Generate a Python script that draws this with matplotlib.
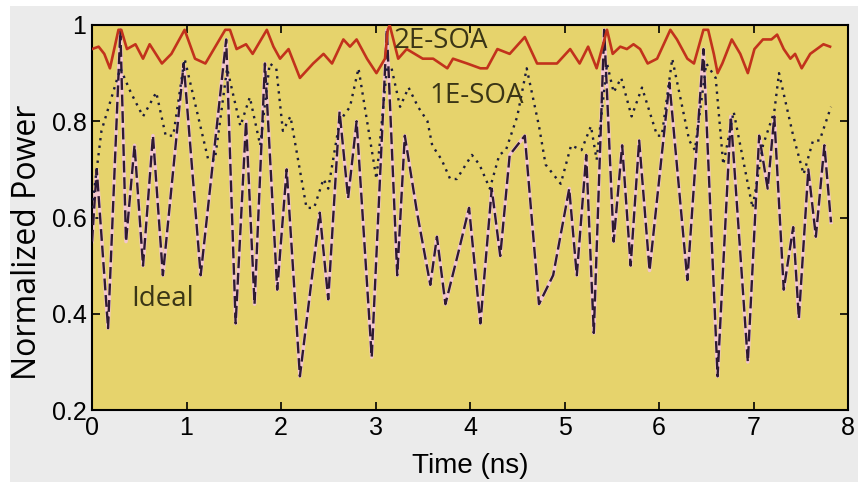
import matplotlib
matplotlib.use("Agg")
import matplotlib.pyplot as plt
from matplotlib.patches import Rectangle

# ---- data ----
ideal_t = [0.00, 0.05, 0.17, 0.30, 0.36, 0.45, 0.54, 0.645, 0.75, 0.97, 1.15, 1.42, 1.52, 1.63, 1.72,
           1.83, 1.96, 2.06, 2.20, 2.41, 2.50, 2.62, 2.71, 2.80, 2.96, 3.12, 3.23, 3.31, 3.44, 3.58,
           3.65, 3.74, 3.88, 3.99, 4.11, 4.23, 4.32, 4.42, 4.58, 4.73, 4.88, 5.05, 5.13, 5.23, 5.31,
           5.42, 5.52, 5.61, 5.70, 5.79, 5.90, 6.11, 6.30, 6.47, 6.62, 6.76, 6.94, 7.06, 7.15, 7.22,
           7.32, 7.42, 7.48, 7.58, 7.66, 7.75, 7.82]
ideal_v = [0.55, 0.70, 0.37, 0.99, 0.55, 0.75, 0.50, 0.77, 0.48, 0.92, 0.48, 0.97, 0.38, 0.80, 0.42,
           0.92, 0.45, 0.70, 0.27, 0.61, 0.43, 0.82, 0.64, 0.80, 0.31, 0.99, 0.48, 0.77, 0.61, 0.46,
           0.56, 0.42, 0.53, 0.62, 0.38, 0.66, 0.52, 0.73, 0.77, 0.42, 0.48, 0.66, 0.48, 0.73, 0.36,
           0.99, 0.55, 0.75, 0.50, 0.76, 0.49, 0.88, 0.47, 0.95, 0.27, 0.81, 0.30, 0.77, 0.66, 0.81,
           0.45, 0.58, 0.39, 0.70, 0.56, 0.75, 0.59]

soa1_t = [0.00, 0.05, 0.10, 0.30, 0.41, 0.54, 0.68, 0.78, 0.86, 0.98, 1.23, 1.30, 1.43, 1.57, 1.67,
          1.78, 1.88, 1.95, 2.02, 2.10, 2.27, 2.35, 2.45, 2.50, 2.62, 2.73, 2.82, 3.01, 3.12, 3.17,
          3.26, 3.35, 3.45, 3.55, 3.60, 3.70, 3.79, 3.86, 4.02, 4.10, 4.21, 4.31, 4.38, 4.50, 4.60,
          4.73, 4.80, 4.96, 5.07, 5.18, 5.28, 5.34, 5.45, 5.52, 5.60, 5.71, 5.82, 5.98, 6.03, 6.14,
          6.32, 6.38, 6.50, 6.60, 6.68, 6.79, 6.99, 7.10, 7.22, 7.27, 7.42, 7.53, 7.63, 7.70, 7.82]
soa1_v = [0.62, 0.70, 0.78, 0.91, 0.86, 0.81, 0.86, 0.77, 0.77, 0.93, 0.72, 0.72, 0.91, 0.79, 0.85,
          0.75, 0.92, 0.91, 0.78, 0.81, 0.62, 0.62, 0.68, 0.66, 0.80, 0.83, 0.91, 0.68, 0.91, 0.91,
          0.83, 0.87, 0.83, 0.80, 0.75, 0.72, 0.68, 0.68, 0.73, 0.71, 0.66, 0.73, 0.74, 0.81, 0.91,
          0.79, 0.71, 0.67, 0.75, 0.74, 0.79, 0.72, 0.92, 0.86, 0.89, 0.81, 0.87, 0.77, 0.77, 0.93,
          0.76, 0.74, 0.92, 0.89, 0.71, 0.82, 0.62, 0.75, 0.82, 0.90, 0.77, 0.69, 0.76, 0.76, 0.83]

soa2_t = [0.00, 0.07, 0.13, 0.19, 0.28, 0.31, 0.37, 0.46, 0.54, 0.61, 0.74, 0.84, 0.98, 1.09, 1.20,
          1.32, 1.41, 1.46, 1.53, 1.63, 1.70, 1.76, 1.85, 1.92, 1.99, 2.08, 2.20, 2.34, 2.45, 2.54,
          2.66, 2.73, 2.80, 2.91, 3.01, 3.10, 3.13, 3.15, 3.24, 3.33, 3.50, 3.61, 3.76, 3.82, 3.97,
          4.11, 4.18, 4.29, 4.42, 4.58, 4.71, 4.81, 4.92, 5.06, 5.16, 5.25, 5.34, 5.45, 5.51, 5.59,
          5.66, 5.73, 5.80, 5.88, 5.98, 6.12, 6.19, 6.30, 6.37, 6.47, 6.52, 6.58, 6.62, 6.67, 6.77,
          6.86, 6.94, 7.01, 7.10, 7.19, 7.25, 7.32, 7.39, 7.44, 7.51, 7.60, 7.67, 7.74, 7.81]
soa2_v = [0.95, 0.955, 0.94, 0.91, 0.99, 0.99, 0.95, 0.96, 0.93, 0.96, 0.92, 0.94, 0.99, 0.93, 0.92,
          0.96, 0.99, 0.99, 0.95, 0.96, 0.94, 0.96, 0.99, 0.955, 0.93, 0.95, 0.89, 0.92, 0.94, 0.92,
          0.97, 0.955, 0.97, 0.93, 0.90, 0.93, 0.99, 1.00, 0.93, 0.95, 0.93, 0.93, 0.91, 0.93, 0.92,
          0.91, 0.91, 0.95, 0.94, 0.975, 0.92, 0.92, 0.92, 0.95, 0.92, 0.955, 0.91, 0.99, 0.94, 0.955,
          0.95, 0.96, 0.95, 0.92, 0.93, 0.99, 0.97, 0.93, 0.92, 0.99, 0.99, 0.94, 0.90, 0.92, 0.97,
          0.94, 0.90, 0.95, 0.97, 0.97, 0.98, 0.95, 0.93, 0.94, 0.91, 0.94, 0.95, 0.96, 0.955]

x_ticks = [0, 1, 2, 3, 4, 5, 6, 7, 8]
y_ticks = [0.2, 0.4, 0.6, 0.8, 1.0]
y_tick_labels = ["0.2", "0.4", "0.6", "0.8", "1"]

# ---- figure ----
W, H = 858, 482
fig = plt.figure(figsize=(W / 100, H / 100), dpi=100, facecolor="#ebebeb")
fig.patches.append(Rectangle((0, 1 - 6 / H), 1, 6 / H, transform=fig.transFigure,
                             facecolor="white", edgecolor="none", zorder=0))
fig.patches.append(Rectangle((0, 0), 10 / W, 1, transform=fig.transFigure,
                             facecolor="white", edgecolor="none", zorder=0))

ax = fig.add_axes([92 / W, 1 - 410 / H, (848 - 92) / W, (410 - 25) / H])
ax.set_facecolor("#e6d36c")

# Ideal: dashed with light halo
ax.plot(ideal_t, ideal_v, color="#f3c6cf", lw=2.6, solid_joinstyle="round", zorder=2)
ax.plot(ideal_t, ideal_v, color="#2e1a33", lw=1.7, linestyle=(0, (5, 2)), zorder=3)
# 1E-SOA: dotted
ax.plot(soa1_t, soa1_v, color="#1c1c3c", lw=1.7, linestyle=(0, (1, 2.2)), zorder=4)
# 2E-SOA: solid red
ax.plot(soa2_t, soa2_v, color="#c2321c", lw=1.9, zorder=5)

ax.set_xlim(0, 8)
ax.set_ylim(0.2, 1.0)

tick_font = ["Liberation Sans Narrow", "Liberation Sans", "DejaVu Sans"]
ax.set_xticks(x_ticks)
ax.set_xticklabels([str(v) for v in x_ticks], family=tick_font, fontsize=18)
ax.set_yticks(y_ticks)
ax.set_yticklabels(y_tick_labels, family=tick_font, fontsize=18)
ax.tick_params(direction="in", length=6, width=1.2, top=True, right=True, pad=4, colors="black")
for s in ax.spines.values():
    s.set_linewidth(1.5)
    s.set_color("black")

lab_font = ["Open Sans", "DejaVu Sans"]
txt_col = "#3a3516"
ax.text(3.69, 0.967, "2E-SOA", family=lab_font, fontsize=20, color=txt_col, ha="center", va="center", zorder=6)
ax.text(4.07, 0.852, "1E-SOA", family=lab_font, fontsize=20, color=txt_col, ha="center", va="center", zorder=6)
ax.text(0.75, 0.43, "Ideal", family=lab_font, fontsize=20, color=txt_col, ha="center", va="center", zorder=6)

fig.text(470 / W, 1 - 466 / H, "Time (ns)", family=tick_font, fontsize=20, ha="center", va="center")
fig.text(28 / W, 1 - 242 / H, "Normalized Power", family=lab_font, fontsize=23, rotation=90,
         ha="center", va="center")

fig.savefig("out.png", dpi=100, facecolor=fig.get_facecolor())
